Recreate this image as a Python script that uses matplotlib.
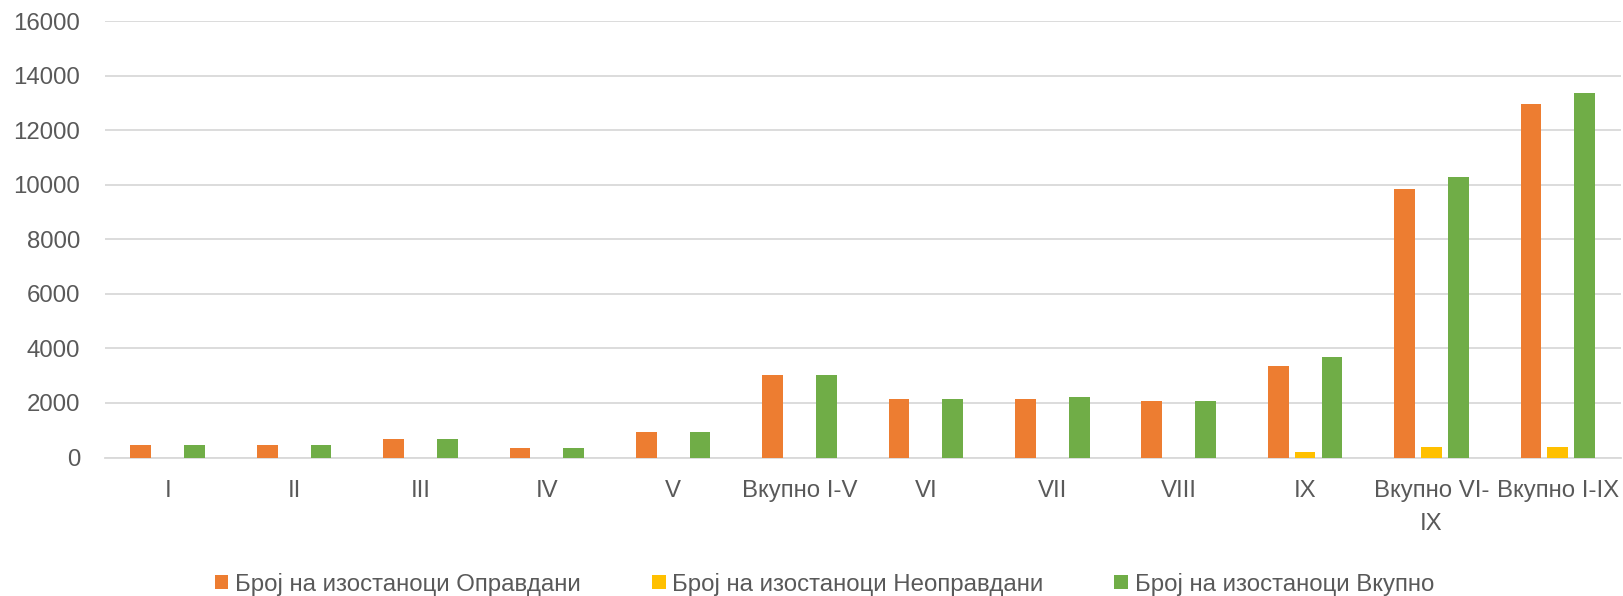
import matplotlib
matplotlib.use("Agg")
import matplotlib.pyplot as plt
import numpy as np

categories = ["I", "II", "III", "IV", "V", "Вкупно I-V", "VI", "VII", "VIII", "IX",
              "Вкупно VI-\nIX", "Вкупно I-IX"]
opravdani = [440, 440, 690, 355, 920, 3040, 2140, 2140, 2060, 3370, 9860, 12950]
neopravdani = [0, 0, 0, 0, 0, 0, 0, 0, 0, 200, 370, 370]
vkupno = [440, 440, 690, 355, 920, 3040, 2140, 2230, 2060, 3690, 10270, 13350]
series_names = ["Број на изостаноци Оправдани", "Број на изостаноци Неоправдани",
                "Број на изостаноци Вкупно"]
yticks = [0, 2000, 4000, 6000, 8000, 10000, 12000, 14000, 16000]

colors = ["#ED7D31", "#FFC000", "#70AD47"]
txt = "#595959"
fs = 17.3

plt.rcParams['font.family'] = ['Liberation Sans', 'DejaVu Sans']

fig = plt.figure(figsize=(16.23, 5.96), dpi=100)
ax = fig.add_axes([104.5 / 1623, (596 - 457.5) / 596, (1621 - 104.5) / 1623, (457.5 - 21) / 596])

x = np.arange(len(categories))
w = 0.164
off = 0.213
for i, (vals, name) in enumerate(zip([opravdani, neopravdani, vkupno], series_names)):
    ax.bar(x + (i - 1) * off, vals, width=w, color=colors[i], label=name, zorder=3)

ax.set_xlim(-0.5, len(categories) - 0.5)
ax.set_ylim(0, 16000)
ax.set_yticks(yticks)
ax.set_yticklabels([str(v) for v in yticks])
ax.set_xticks(x)
ax.set_xticklabels(categories, linespacing=1.65)
ax.grid(axis='y', color="#D9D9D9", linewidth=1.3, zorder=0)
for s in ["top", "right", "left"]:
    ax.spines[s].set_visible(False)
ax.spines["bottom"].set_color("#D9D9D9")
ax.spines["bottom"].set_linewidth(1.3)
ax.tick_params(axis='y', length=0, pad=17.5, labelsize=fs, labelcolor=txt)
ax.tick_params(axis='x', length=0, pad=16.5, labelsize=fs, labelcolor=txt)

fig.legend(loc='center', bbox_to_anchor=(824.5 / 1623, 12 / 596), ncol=3, frameon=False,
           fontsize=fs, labelcolor=txt, handlelength=0.57, handleheight=0.57,
           handletextpad=0.28, columnspacing=2.95, borderpad=0, borderaxespad=0)

fig.savefig("out.png", dpi=100)
